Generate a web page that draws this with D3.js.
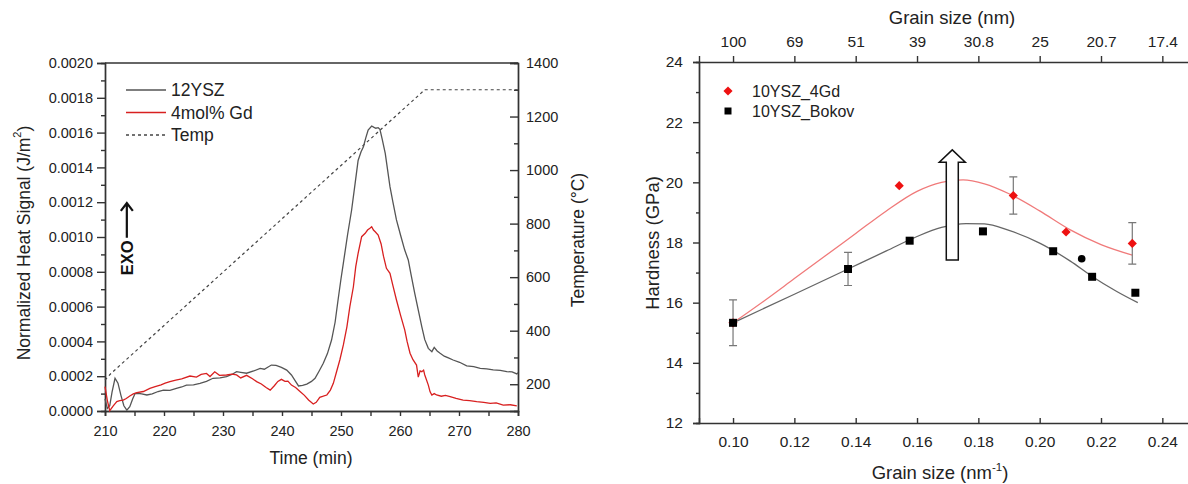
<!DOCTYPE html>
<html>
<head>
<meta charset="utf-8">
<script src="https://cdn.jsdelivr.net/npm/d3@7"></script>
<style>
  body { margin: 0; background: #fff; }
  svg { font-family: "Liberation Sans", Arial, sans-serif; }
</style>
</head>
<body>
<svg id="chart" width="1188" height="484"></svg>
<script>
//--------------------------------------------------
// Data: left panel (DSC heat signal, values in 1e-4 J/m2)
//--------------------------------------------------
const timeTicks = [210, 220, 230, 240, 250, 260, 270, 280];
const heatTicks = [0, 2, 4, 6, 8, 10, 12, 14, 16, 18, 20];
const tempTicks = [200, 400, 600, 800, 1000, 1200, 1400];

const ysz12 = [
  [210.0, 0.7], [210.4, 0.15], [210.8, 0.3], [211.2, 1.1], [211.7, 1.88], [212.2, 1.6],
  [212.7, 0.9], [213.2, 0.3], [213.7, 0.05], [214.2, 0.25], [214.7, 0.7], [215.1, 1.0],
  [215.6, 1.02], [216.2, 0.98], [217.1, 0.92], [218.0, 0.98], [219.0, 1.12], [219.9, 1.2],
  [221.0, 1.18], [222.1, 1.3], [223.0, 1.38], [223.8, 1.49], [225.0, 1.5], [226.1, 1.59],
  [227.2, 1.7], [228.3, 1.88], [229.5, 1.9], [230.6, 1.97], [231.5, 2.1], [232.3, 2.26],
  [233.0, 2.22], [234.0, 2.17], [235.2, 2.3], [236.3, 2.45], [237.0, 2.4], [238.2, 2.64],
  [239.0, 2.62], [239.9, 2.51], [240.8, 2.35], [241.6, 2.07], [242.3, 1.7], [242.8, 1.44],
  [243.5, 1.47], [244.2, 1.55], [245.0, 1.7], [245.6, 1.88], [246.3, 2.3], [247.0, 2.74],
  [247.7, 3.3], [248.4, 4.08], [249.0, 5.1], [249.5, 6.38], [250.0, 7.6], [250.4, 8.5],
  [251.1, 10.1], [251.8, 11.55], [252.4, 13.1], [252.9, 14.4], [253.4, 14.9], [253.8, 15.19],
  [254.2, 15.7], [254.6, 16.15], [255.2, 16.38], [255.6, 16.3], [255.9, 16.25], [256.3, 16.28],
  [256.6, 16.19], [257.0, 15.6], [257.5, 14.81], [258.3, 12.89], [258.8, 12.0], [259.4, 10.98],
  [260.1, 10.1], [260.8, 9.25], [261.4, 8.68], [261.9, 7.8], [262.5, 6.76], [263.1, 5.8],
  [263.7, 4.84], [264.2, 4.1], [264.8, 3.6], [265.4, 3.41], [265.8, 3.66], [266.3, 3.45],
  [266.8, 3.32], [267.5, 3.15], [268.2, 3.05], [269.0, 2.93], [270.1, 2.8], [271.3, 2.59],
  [272.5, 2.55], [273.6, 2.45], [274.7, 2.42], [275.8, 2.36], [277.0, 2.33], [278.1, 2.26],
  [279.0, 2.25], [279.8, 2.13], [280.0, 2.2]
];

const gd4 = [
  [210.0, 1.4], [210.4, 0.6], [210.8, 0.02], [211.4, 0.3], [212.0, 0.54], [212.5, 0.6],
  [213.1, 0.63], [213.6, 0.72], [214.2, 0.86], [214.8, 0.98], [215.4, 1.05], [216.5, 1.12],
  [217.6, 1.3], [218.5, 1.4], [219.5, 1.5], [220.2, 1.6], [221.0, 1.69], [222.0, 1.78],
  [223.0, 1.85], [224.4, 2.01], [225.5, 1.95], [226.3, 2.1], [227.2, 2.16], [227.8, 1.98],
  [228.6, 2.25], [229.4, 2.05], [230.6, 2.07], [231.5, 2.12], [232.3, 2.07], [233.0, 1.9],
  [234.0, 2.05], [235.0, 1.85], [235.7, 1.69], [236.5, 1.55], [237.3, 1.35], [238.0, 1.2],
  [238.7, 1.45], [239.3, 1.7], [239.9, 1.82], [240.5, 1.7], [241.0, 1.72], [241.6, 1.49],
  [242.3, 1.35], [243.1, 1.11], [243.8, 0.9], [244.5, 0.63], [245.3, 0.4], [245.8, 0.5],
  [246.4, 0.79], [247.0, 0.85], [247.6, 0.92], [248.2, 1.2], [248.7, 1.59], [249.2, 2.2],
  [249.8, 2.93], [250.4, 3.8], [251.0, 4.84], [251.5, 6.0], [252.1, 7.14], [252.5, 8.3],
  [252.9, 9.06], [253.5, 10.02], [254.1, 10.21], [254.5, 10.4], [254.9, 10.5], [255.2, 10.59],
  [255.5, 10.4], [255.8, 10.3], [256.3, 10.11], [256.8, 9.6], [257.2, 8.9], [257.7, 8.2],
  [258.3, 7.91], [258.8, 7.2], [259.4, 6.38], [260.1, 5.5], [260.8, 4.66], [261.2, 4.0],
  [261.7, 3.32], [262.2, 2.95], [262.8, 2.64], [263.1, 1.95], [263.4, 2.3], [263.7, 2.26],
  [264.0, 2.35], [264.2, 2.07], [264.8, 1.49], [265.1, 1.1], [265.4, 0.92], [265.8, 1.0],
  [266.2, 0.92], [267.0, 0.85], [267.7, 0.9], [268.5, 0.82], [269.5, 0.72], [270.7, 0.63],
  [271.8, 0.6], [273.0, 0.54], [274.2, 0.5], [275.3, 0.44], [276.3, 0.47], [277.5, 0.34],
  [278.7, 0.36], [279.8, 0.3]
];

const tempRamp = [[210, 215], [211, 240], [264.2, 1300], [280, 1300]];

//--------------------------------------------------
// Data: right panel (hardness vs inverse grain size)
//--------------------------------------------------
const grainTicks = [0.10, 0.12, 0.14, 0.16, 0.18, 0.20, 0.22, 0.24];
const grainNmLabels = ["100", "69", "51", "39", "30.8", "25", "20.7", "17.4"];
const hardTicks = [12, 14, 16, 18, 20, 22, 24];

const gdX = [0.100, 0.1542, 0.1914, 0.2086, 0.2302];
const gdH = [15.33, 19.89, 19.56, 18.35, 17.97];
const gdErr = [0, 0, 0.62, 0, 0.69];

const bokovX = [0.100, 0.1375, 0.1576, 0.1815, 0.2044, 0.2171, 0.2312];
const bokovH = [15.33, 17.12, 18.06, 18.37, 17.71, 16.86, 16.33];
const bokovErr = [0.76, 0.55, 0, 0, 0, 0, 0];

const extraPoint = [0.2137, 17.46];

const gdFit = [
  [0.100, 15.33], [0.110, 16.05], [0.120, 16.8], [0.130, 17.55], [0.140, 18.3],
  [0.150, 19.05], [0.160, 19.7], [0.168, 20.0], [0.175, 20.08], [0.182, 19.95],
  [0.190, 19.62], [0.200, 19.05], [0.210, 18.42], [0.220, 17.93], [0.2302, 17.58]
];
const bokovFit = [
  [0.100, 15.33], [0.120, 16.28], [0.1375, 17.12], [0.150, 17.72], [0.160, 18.2],
  [0.168, 18.5], [0.176, 18.63], [0.182, 18.62], [0.190, 18.4], [0.200, 17.98],
  [0.210, 17.38], [0.217, 16.88], [0.225, 16.38], [0.232, 16.0]
];

//--------------------------------------------------
const svg = d3.select("#chart");
const axisColor = "#333";
const grayLine = "#555";
const redLine = "#d82020";

function styleAxis(g, size) {
  g.selectAll("path, line").attr("stroke", axisColor).attr("stroke-width", 1.4);
  g.selectAll("text").attr("fill", "#222").attr("font-size", size)
    .attr("font-family", "Liberation Sans, Arial, sans-serif");
  g.attr("font-family", null).attr("font-size", null);
}

//--------------------------------------------------
// Left panel
//--------------------------------------------------
const xL = d3.scaleLinear().domain([210, 280]).range([105, 518]);
const yL = d3.scaleLinear().domain([0, 20]).range([411, 63]);
const yT = d3.scaleLinear().domain([100, 1400]).range([411, 63]);

svg.append("g").attr("transform", "translate(0,411)")
  .call(d3.axisBottom(xL).tickValues(d3.range(215, 280, 10)).tickSize(5).tickFormat(""))
  .call(g => styleAxis(g, 14.5));
svg.append("g").attr("transform", "translate(0,411)")
  .call(d3.axisBottom(xL).tickValues(timeTicks).tickSize(5).tickPadding(10).tickFormat(d3.format("d")))
  .call(g => styleAxis(g, 14.5));

svg.append("g").attr("transform", "translate(105,0)")
  .call(d3.axisLeft(yL).tickValues(d3.range(1, 20, 2)).tickSize(4).tickFormat(""))
  .call(g => styleAxis(g, 14.5));
svg.append("g").attr("transform", "translate(105,0)")
  .call(d3.axisLeft(yL).tickValues(heatTicks).tickSize(8).tickPadding(4)
    .tickFormat(d => (d * 1e-4).toFixed(4)))
  .call(g => styleAxis(g, 14.5));

svg.append("g").attr("transform", "translate(518,0)")
  .call(d3.axisRight(yT).tickValues(d3.range(300, 1400, 200)).tickSize(-4).tickFormat(""))
  .call(g => styleAxis(g, 14.5));
svg.append("g").attr("transform", "translate(518,0)")
  .call(d3.axisRight(yT).tickValues(tempTicks).tickSize(-8).tickPadding(8).tickFormat(d3.format("d")))
  .call(g => styleAxis(g, 14.5));

svg.append("line")
  .attr("x1", xL(210)).attr("x2", xL(280))
  .attr("y1", yL(20)).attr("y2", yL(20))
  .attr("stroke", axisColor).attr("stroke-width", 1.4);

const lineL = d3.line().x(d => xL(d[0])).y(d => yL(d[1]));
const lineTemp = d3.line().x(d => xL(d[0])).y(d => yT(d[1]));

svg.append("path").datum(tempRamp)
  .attr("fill", "none").attr("stroke", "#444").attr("stroke-width", 1.2)
  .attr("stroke-dasharray", "3,3").attr("d", lineTemp);

svg.append("path").datum(ysz12)
  .attr("fill", "none").attr("stroke", grayLine).attr("stroke-width", 1.3)
  .attr("d", lineL);

svg.append("path").datum(gd4)
  .attr("fill", "none").attr("stroke", redLine).attr("stroke-width", 1.3)
  .attr("d", lineL);

// axis titles
svg.append("text")
  .attr("x", 311).attr("y", 464)
  .attr("text-anchor", "middle").attr("font-size", 17.5).attr("fill", "#222")
  .text("Time (min)");

const yTitle = svg.append("text")
  .attr("transform", "translate(24,243) rotate(-90)")
  .attr("text-anchor", "middle").attr("dominant-baseline", "central")
  .attr("font-size", 17.5).attr("fill", "#222");
yTitle.append("tspan").text("Normalized Heat Signal (J/m");
yTitle.append("tspan").attr("font-size", 11).attr("dy", -7).text("2");
yTitle.append("tspan").attr("dy", 7).text(")");

svg.append("text")
  .attr("transform", "translate(578,240) rotate(-90)")
  .attr("text-anchor", "middle").attr("dominant-baseline", "central")
  .attr("font-size", 17.5).attr("fill", "#222")
  .text("Temperature (°C)");

// EXO arrow
const exoX = xL(213.7);
svg.append("text")
  .attr("transform", `translate(${exoX},${yL(7.8)}) rotate(-90)`)
  .attr("dominant-baseline", "central")
  .attr("font-size", 16.5).attr("font-weight", "bold").attr("fill", "#111")
  .text("EXO");
svg.append("path")
  .attr("d", `M${exoX},${yL(9.95)} V${yL(11.95)} M${exoX - 6},${yL(11.5)} L${exoX},${yL(11.95)} L${exoX + 6},${yL(11.5)}`)
  .attr("fill", "none").attr("stroke", "#111").attr("stroke-width", 2.2);

// legend
const legL = [
  { label: "12YSZ", color: grayLine, dash: null },
  { label: "4mol% Gd", color: redLine, dash: null },
  { label: "Temp", color: "#444", dash: "3,3" }
];
legL.forEach((d, i) => {
  const y = 90 + i * 22.5;
  svg.append("line")
    .attr("x1", 126).attr("x2", 166).attr("y1", y).attr("y2", y)
    .attr("stroke", d.color).attr("stroke-width", 1.3)
    .attr("stroke-dasharray", d.dash);
  svg.append("text")
    .attr("x", 171).attr("y", y + 6)
    .attr("font-size", 17.5).attr("fill", "#222")
    .text(d.label);
});

//--------------------------------------------------
// Right panel
//--------------------------------------------------
const xR = d3.scaleLinear().domain([0.0889, 0.25]).range([699, 1193]);
const yR = d3.scaleLinear().domain([12, 24]).range([423, 62]);

svg.append("g").attr("transform", "translate(0,423)")
  .call(d3.axisBottom(xR).tickValues(grainTicks).tickSize(-5).tickPadding(13)
    .tickFormat(d3.format(".2f")))
  .call(g => styleAxis(g, 15.5));

svg.append("g").attr("transform", "translate(0,62)")
  .call(d3.axisTop(xR).tickValues(grainTicks).tickSize(6).tickPadding(9)
    .tickFormat((d, i) => grainNmLabels[i]))
  .call(g => styleAxis(g, 15.5));

svg.append("g").attr("transform", "translate(699,0)")
  .call(d3.axisLeft(yR).tickValues(d3.range(13, 24, 2)).tickSize(3).tickFormat(""))
  .call(g => styleAxis(g, 15.5));
svg.append("g").attr("transform", "translate(699,0)")
  .call(d3.axisLeft(yR).tickValues(hardTicks).tickSize(6).tickPadding(10))
  .call(g => styleAxis(g, 15.5));

const lineR = d3.line().x(d => xR(d[0])).y(d => yR(d[1])).curve(d3.curveMonotoneX);

svg.append("path").datum(gdFit)
  .attr("fill", "none").attr("stroke", "#f07a7a").attr("stroke-width", 1.3)
  .attr("d", lineR);
svg.append("path").datum(bokovFit)
  .attr("fill", "none").attr("stroke", "#666").attr("stroke-width", 1.3)
  .attr("d", lineR);

// hollow arrow
const ax = xR(0.1715);
svg.append("path")
  .attr("d", `M${ax - 6},${yR(17.42)} V${yR(20.67)} H${ax - 13} L${ax},${yR(21.08)} L${ax + 13},${yR(20.67)} H${ax + 6} V${yR(17.42)} Z`)
  .attr("fill", "#fff").attr("stroke", "#111").attr("stroke-width", 1.5);

// error bars
function errBars(xs, hs, es) {
  xs.forEach((x, i) => {
    if (!es[i]) return;
    const px = xR(x), y0 = yR(hs[i] - es[i]), y1 = yR(hs[i] + es[i]);
    svg.append("path")
      .attr("d", `M${px},${y0} V${y1} M${px - 4},${y0} H${px + 4} M${px - 4},${y1} H${px + 4}`)
      .attr("fill", "none").attr("stroke", "#777").attr("stroke-width", 1.2);
  });
}
errBars(gdX, gdH, gdErr);
errBars(bokovX, bokovH, bokovErr);

const diamond = d3.symbol().type(d3.symbolSquare).size(42);
const square = d3.symbol().type(d3.symbolSquare).size(64);
const circle = d3.symbol().type(d3.symbolCircle).size(46);

svg.selectAll(".gd").data(gdX).join("path")
  .attr("class", "gd")
  .attr("transform", (d, i) => `translate(${xR(d)},${yR(gdH[i])}) rotate(45)`)
  .attr("d", diamond).attr("fill", "#ee1111");

svg.selectAll(".bokov").data(bokovX).join("path")
  .attr("class", "bokov")
  .attr("transform", (d, i) => `translate(${xR(d)},${yR(bokovH[i])})`)
  .attr("d", square).attr("fill", "#000");

svg.append("path")
  .attr("transform", `translate(${xR(extraPoint[0])},${yR(extraPoint[1])})`)
  .attr("d", circle).attr("fill", "#000");

// legend
svg.append("path").attr("transform", "translate(728,91) rotate(45)")
  .attr("d", diamond).attr("fill", "#ee1111");
svg.append("text").attr("x", 752).attr("y", 97)
  .attr("font-size", 16).attr("fill", "#222").text("10YSZ_4Gd");
svg.append("path").attr("transform", "translate(728,111)")
  .attr("d", d3.symbol().type(d3.symbolSquare).size(49)).attr("fill", "#000");
svg.append("text").attr("x", 752).attr("y", 117)
  .attr("font-size", 16).attr("fill", "#222").text("10YSZ_Bokov");

// titles
svg.append("text")
  .attr("x", 952).attr("y", 24)
  .attr("text-anchor", "middle").attr("font-size", 18.5).attr("fill", "#222")
  .text("Grain size (nm)");

const xTitle = svg.append("text")
  .attr("x", 940).attr("y", 479)
  .attr("text-anchor", "middle").attr("font-size", 18.5).attr("fill", "#222");
xTitle.append("tspan").text("Grain size (nm");
xTitle.append("tspan").attr("font-size", 11.5).attr("dy", -8).text("-1");
xTitle.append("tspan").attr("dy", 8).text(")");

svg.append("text")
  .attr("transform", "translate(652,243) rotate(-90)")
  .attr("text-anchor", "middle").attr("dominant-baseline", "central")
  .attr("font-size", 18.5).attr("fill", "#222")
  .text("Hardness (GPa)");
</script>
</body>
</html>
